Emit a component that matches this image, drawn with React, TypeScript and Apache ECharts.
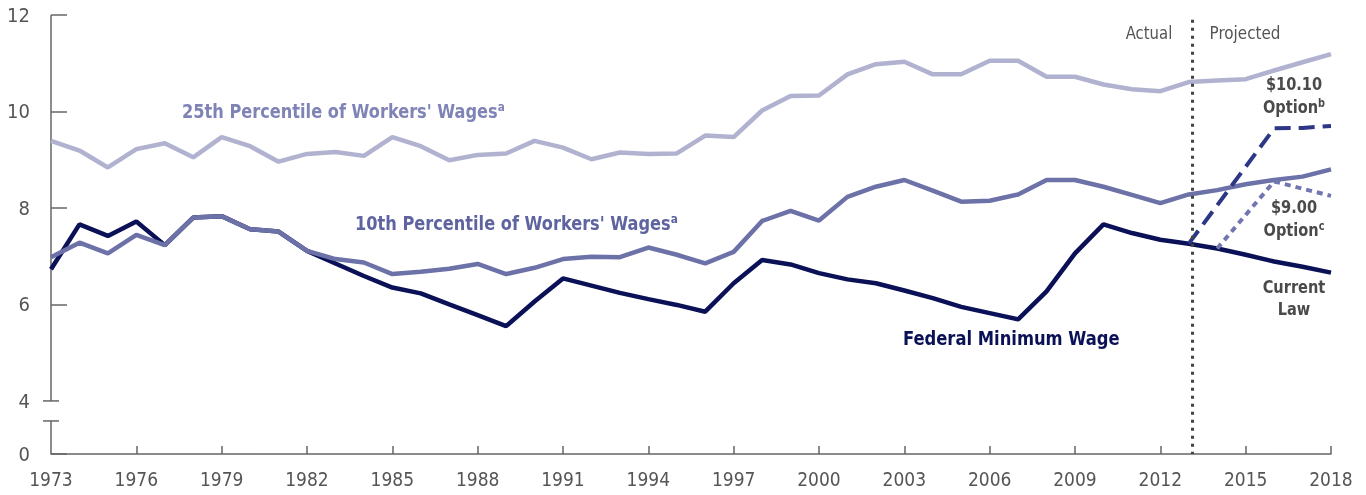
import React, { useEffect, useRef } from "react";
import * as echarts from "echarts";

const years = [
  1973, 1974, 1975, 1976, 1977, 1978, 1979, 1980, 1981, 1982,
  1983, 1984, 1985, 1986, 1987, 1988, 1989, 1990, 1991, 1992,
  1993, 1994, 1995, 1996, 1997, 1998, 1999, 2000, 2001, 2002,
  2003, 2004, 2005, 2006, 2007, 2008, 2009, 2010, 2011, 2012,
  2013, 2014, 2015, 2016, 2017, 2018,
];

const federalMinimumWage = [
  6.73, 7.66, 7.42, 7.72, 7.23, 7.8, 7.83, 7.56, 7.51, 7.11,
  6.85, 6.59, 6.35, 6.23, 6.0, 5.78, 5.55, 6.06, 6.54, 6.39,
  6.24, 6.11, 5.99, 5.85, 6.44, 6.92, 6.83, 6.65, 6.52, 6.44,
  6.29, 6.13, 5.95, 5.82, 5.69, 6.27, 7.06, 7.66, 7.48, 7.34,
  7.26, 7.16, 7.03, 6.89, 6.78, 6.66,
];

const percentile10 = [
  6.98, 7.28, 7.06, 7.44, 7.23, 7.8, 7.83, 7.56, 7.51, 7.11,
  6.94, 6.87, 6.63, 6.68, 6.74, 6.84, 6.63, 6.76, 6.94, 6.99,
  6.98, 7.18, 7.03, 6.85, 7.09, 7.73, 7.94, 7.74, 8.23, 8.44,
  8.58, 8.36, 8.13, 8.15, 8.28, 8.58, 8.58, 8.44, 8.27, 8.1,
  8.28, 8.37, 8.49, 8.58, 8.65, 8.8,
];

const percentile25 = [
  9.39, 9.19, 8.84, 9.22, 9.34, 9.05, 9.47, 9.28, 8.96, 9.12,
  9.16, 9.08, 9.47, 9.28, 8.99, 9.1, 9.13, 9.39, 9.25, 9.01,
  9.15, 9.12, 9.13, 9.5, 9.47, 10.02, 10.32, 10.33, 10.77, 10.98,
  11.03, 10.77, 10.77, 11.05, 11.05, 10.72, 10.72, 10.56, 10.46, 10.42,
  10.61, 10.64, 10.67, 10.85, 11.02, 11.19,
];

const option1010Years = [2013, 2014, 2015, 2016, 2017, 2018];
const option1010 = [7.26, null, null, 9.65, 9.66, 9.7];

const option900Years = [2014, 2015, 2016, 2017, 2018];
const option900 = [7.16, null, 8.55, 8.4, 8.25];

const xTickLabels = [
  1973, 1976, 1979, 1982, 1985, 1988, 1991, 1994, 1997, 2000, 2003, 2006,
  2009, 2012, 2015, 2018,
];
const yTickLabels = [4, 6, 8, 10, 12];
const Y_FLOOR = 2.9; // bottom of the broken axis, labelled "0"
const Y_BREAK = 3.585; // bottom edge of the axis break
const PROJECTION_START = 2013.12;

const FONT =
  '"Liberation Sans Narrow", "DejaVu Sans Condensed", "Roboto Condensed", "Noto Sans", sans-serif';

const pairs = (xs: number[], ys: (number | null)[]) =>
  xs.map((x, i) => [x, ys[i]]);

export default function App() {
  const ref = useRef<HTMLDivElement>(null);

  useEffect(() => {
    if (!ref.current) return;
    const chart = echarts.init(ref.current, null, { renderer: "svg" });
    const axisColor = "#666666";

    const option: any = {
      animation: false,
      grid: { left: 51, right: 35, top: 15, bottom: 41, containLabel: false },
      xAxis: {
        type: "value",
        min: 1973,
        max: 2018,
        axisLine: { show: true, lineStyle: { color: axisColor, width: 1.5 } },
        axisTick: {
          show: true,
          inside: true,
          length: 8,
          customValues: xTickLabels.slice(1),
          lineStyle: { color: axisColor, width: 1.5 },
        },
        axisLabel: {
          customValues: xTickLabels,
          formatter: (v: number) => String(v),
          color: "#555555",
          fontFamily: FONT,
          fontSize: 19,
          margin: 15,
        },
        splitLine: { show: false },
      },
      yAxis: {
        type: "value",
        min: Y_FLOOR,
        max: 12,
        axisLine: { show: false },
        axisTick: {
          show: true,
          inside: true,
          length: 16,
          customValues: [Y_FLOOR, 6, 8, 10, 12],
          lineStyle: { color: axisColor, width: 1.5 },
        },
        axisLabel: {
          customValues: [Y_FLOOR, ...yTickLabels],
          formatter: (v: number) => (v < 4 ? "0" : String(v)),
          color: "#555555",
          fontFamily: FONT,
          fontSize: 20,
          margin: 21,
        },
        splitLine: { show: false },
      },
      series: [
        {
          name: "Federal Minimum Wage",
          type: "line",
          data: pairs(years, federalMinimumWage),
          symbol: "none",
          lineStyle: { color: "#0b1157", width: 4.5 },
          z: 2,
          markLine: {
            silent: true,
            symbol: "none",
            label: { show: false },
            lineStyle: { color: "#444444", width: 3, type: [3, 5] },
            data: [[{ coord: [PROJECTION_START, 11.9] }, { coord: [PROJECTION_START, Y_FLOOR] }]],
          },
        },
        {
          name: "10th Percentile",
          type: "line",
          data: pairs(years, percentile10),
          symbol: "none",
          lineStyle: { color: "#6c71a8", width: 4.5 },
          z: 3,
        },
        {
          name: "25th Percentile",
          type: "line",
          data: pairs(years, percentile25),
          symbol: "none",
          lineStyle: { color: "#b0b2d0", width: 4.5 },
          z: 3,
        },
        {
          name: "$10.10 Option",
          type: "line",
          data: pairs(option1010Years, option1010),
          connectNulls: true,
          symbol: "none",
          lineStyle: { color: "#2c3786", width: 4, type: [16, 8] },
          z: 4,
        },
        {
          name: "$9.00 Option",
          type: "line",
          data: pairs(option900Years, option900),
          connectNulls: true,
          symbol: "none",
          lineStyle: { color: "#7276b0", width: 4, type: [6, 5] },
          z: 4,
        },
      ],
    };
    chart.setOption(option);

    const px = (v: number) => chart.convertToPixel({ gridIndex: 0 }, [1973, v]) as number[];
    const top = px(12);
    const four = px(4);
    const brk = px(Y_BREAK);
    const floor = px(Y_FLOOR);
    const ax = top[0];
    const ls = { stroke: axisColor, lineWidth: 1.5 };

    const boldText = (
      x: number,
      y: number,
      main: string,
      sup: string,
      color: string,
      align: string,
      size: number,
      scaleX: number
    ) => ({
      type: "text",
      x,
      y,
      scaleX,
      style: {
        text: sup ? `{m|${main}}{s|${sup}}` : `{m|${main}}`,
        align,
        verticalAlign: "middle",
        textAlign: align,
        textVerticalAlign: "middle",
        rich: {
          m: {
            fontFamily: FONT,
            fontSize: size,
            fontWeight: "bold",
            fill: color,
            color,
            lineHeight: size + 2,
          },
          s: {
            fontFamily: FONT,
            fontSize: Math.round(size * 0.65),
            fontWeight: "bold",
            fill: color,
            color,
            verticalAlign: "top",
            lineHeight: size + 2,
          },
        },
      },
    });

    const plainText = (x: number, y: number, text: string, scaleX: number) => ({
      type: "text",
      x,
      y,
      scaleX,
      style: {
        text,
        fill: "#555555",
        fontFamily: FONT,
        fontSize: 18,
        align: "center",
        verticalAlign: "middle",
        textAlign: "center",
        textVerticalAlign: "middle",
      },
    });

    const dark = "#4a4a4a";
    chart.setOption({
      graphic: [
        { type: "line", shape: { x1: ax, y1: top[1], x2: ax, y2: four[1] }, style: ls },
        { type: "line", shape: { x1: ax, y1: brk[1], x2: ax, y2: floor[1] }, style: ls },
        { type: "line", shape: { x1: ax - 8, y1: four[1], x2: ax + 8, y2: four[1] }, style: ls },
        { type: "line", shape: { x1: ax - 8, y1: brk[1], x2: ax + 8, y2: brk[1] }, style: ls },
        boldText(182, 111, "25th Percentile of Workers' Wages", "a", "#7f83b6", "left", 20, 0.9),
        boldText(355, 223, "10th Percentile of Workers' Wages", "a", "#5f64a0", "left", 20, 0.9),
        boldText(903, 338, "Federal Minimum Wage", "", "#0b1157", "left", 20, 0.91),
        boldText(1294, 84, "$10.10", "", dark, "center", 18, 0.9),
        boldText(1294, 107, "Option", "b", dark, "center", 18, 0.9),
        boldText(1294, 207, "$9.00", "", dark, "center", 18, 0.9),
        boldText(1294, 230, "Option", "c", dark, "center", 18, 0.9),
        boldText(1294, 287, "Current", "", dark, "center", 18, 0.9),
        boldText(1294, 309, "Law", "", dark, "center", 18, 0.9),
        plainText(1149, 33, "Actual", 0.92),
        plainText(1245, 33, "Projected", 0.94),
      ],
    });

    return () => chart.dispose();
  }, []);

  return (
    <div
      ref={ref}
      style={{ position: "fixed", left: 0, top: 0, width: 1366, height: 495 }}
    />
  );
}
